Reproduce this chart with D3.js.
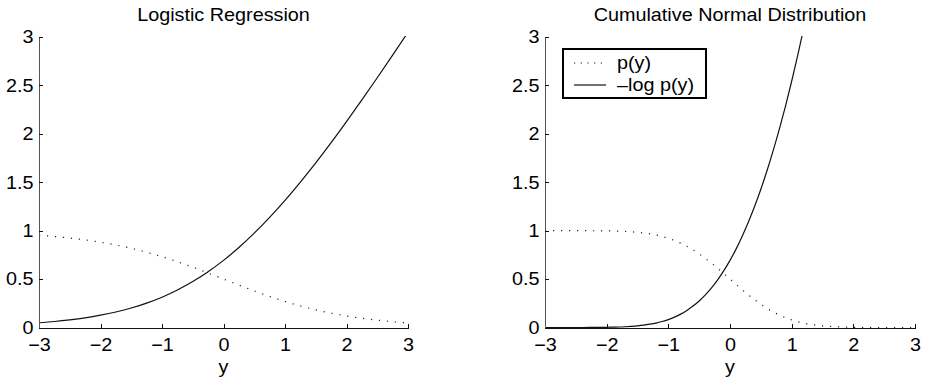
<!DOCTYPE html>
<html>
<head>
<meta charset="utf-8">
<script src="https://cdn.jsdelivr.net/npm/d3@7"></script>
<style>
  body { margin: 0; background: #fff; }
  text { font-family: "Liberation Sans", Arial, sans-serif; fill: #000; }
</style>
</head>
<body>
<script>
// datos
var titulos = ["Logistic Regression", "Cumulative Normal Distribution"]
var etiquetaX = "y"
var leyenda = ["p(y)", "\u2013log p(y)"]

var ticksX = [-3, -2, -1, 0, 1, 2, 3]
var etiquetasTicksX = ["\u22123", "\u22122", "\u22121", "0", "1", "2", "3"]
var ticksY = [0, 0.5, 1, 1.5, 2, 2.5, 3]
var etiquetasTicksY = ["0", "0.5", "1", "1.5", "2", "2.5", "3"]

// panel izquierdo: regresion logistica
var yLogit = [-3, -2.75, -2.5, -2.25, -2, -1.75, -1.5, -1.25, -1, -0.75, -0.5, -0.25, 0,
  0.25, 0.5, 0.75, 1, 1.25, 1.5, 1.75, 2, 2.25, 2.5, 2.75, 3]
var pLogit = [0.953, 0.940, 0.924, 0.905, 0.881, 0.852, 0.818, 0.777, 0.731, 0.679, 0.623, 0.562, 0.500,
  0.438, 0.378, 0.321, 0.269, 0.223, 0.182, 0.148, 0.119, 0.095, 0.076, 0.060, 0.047]
var logLogit = [0.049, 0.062, 0.079, 0.100, 0.127, 0.160, 0.201, 0.252, 0.313, 0.387, 0.474, 0.576, 0.693,
  0.826, 0.974, 1.137, 1.313, 1.502, 1.701, 1.910, 2.127, 2.350, 2.579, 2.812, 3.049]

// panel derecho: normal acumulada
var yProbit = [-3, -2.8, -2.6, -2.4, -2.2, -2, -1.9, -1.8, -1.7, -1.6, -1.5, -1.4, -1.3, -1.2, -1.1,
  -1, -0.9, -0.8, -0.7, -0.6, -0.5, -0.4, -0.3, -0.2, -0.1, 0,
  0.1, 0.2, 0.3, 0.4, 0.5, 0.6, 0.7, 0.8, 0.9, 1, 1.1, 1.2, 1.3, 1.4, 1.5,
  1.6, 1.7, 1.8, 1.9, 2, 2.2, 2.4, 2.6, 2.8, 3]
var pProbit = [1.000, 1.000, 1.000, 1.000, 0.999, 0.998, 0.996, 0.995, 0.992, 0.988, 0.983, 0.976, 0.967, 0.955, 0.940,
  0.921, 0.898, 0.871, 0.839, 0.802, 0.760, 0.714, 0.664, 0.611, 0.556, 0.500,
  0.444, 0.389, 0.336, 0.286, 0.240, 0.198, 0.161, 0.129, 0.102, 0.079, 0.060, 0.045, 0.033, 0.024, 0.017,
  0.012, 0.008, 0.005, 0.004, 0.002, 0.001, 0.000, 0.000, 0.000, 0.000]
var logProbit = [0.000, 0.000, 0.000, 0.000, 0.001, 0.002, 0.004, 0.005, 0.008, 0.012, 0.017, 0.024, 0.034, 0.046, 0.062,
  0.082, 0.107, 0.138, 0.176, 0.221, 0.274, 0.337, 0.409, 0.492, 0.587, 0.693,
  0.812, 0.945, 1.092, 1.252, 1.428, 1.619, 1.826, 2.048, 2.287, 2.543, 2.815, 3.105, 3.411, 3.735, 4.075,
  4.43, 4.80, 5.18, 5.57, 5.97, 6.82, 7.74, 8.74, 9.8, 11.0]

var width = 929
var height = 383
var margin = { top: 37, bottom: 55 }
var paneles = [
  { izq: 39, der: 408, y: yLogit, p: pLogit, lg: logLogit },
  { izq: 545, der: 915, y: yProbit, p: pProbit, lg: logProbit }
]
var tamLetra = 18
var estirar = "scale(1.1,1)"

var svg = d3.select("body")
  .append("svg")
  .attr("width", width)
  .attr("height", height)

paneles.forEach(function (panel, i) {
  var escalaX = d3.scaleLinear()
    .domain([-3, 3])
    .range([panel.izq, panel.der])
  var escalaY = d3.scaleLinear()
    .domain([0, 3])
    .range([height - margin.bottom - 0.5, margin.top])

  var g = svg.append("g")

  // recorte del area del grafico
  g.append("clipPath")
    .attr("id", "clip" + i)
    .append("rect")
    .attr("x", panel.izq)
    .attr("y", margin.top - 1)
    .attr("width", panel.der - panel.izq)
    .attr("height", escalaY(0) - margin.top + 2)

  var puntos = panel.y.map(function (d, k) { return { x: d, p: panel.p[k], lg: panel.lg[k] } })

  var lineaP = d3.line()
    .x(d => escalaX(d.x))
    .y(d => escalaY(d.p))
    .curve(d3.curveMonotoneX)
  var lineaLog = d3.line()
    .x(d => escalaX(d.x))
    .y(d => escalaY(d.lg))
    .curve(d3.curveMonotoneX)

  g.append("path")
    .datum(puntos)
    .attr("clip-path", "url(#clip" + i + ")")
    .attr("d", lineaP)
    .attr("fill", "none")
    .attr("stroke", "#222")
    .attr("stroke-width", 1.2)
    .attr("stroke-dasharray", "1.2,6.8")

  g.append("path")
    .datum(puntos)
    .attr("clip-path", "url(#clip" + i + ")")
    .attr("d", lineaLog)
    .attr("fill", "none")
    .attr("stroke", "#111")
    .attr("stroke-width", 1.2)

  // ejes
  var ejeX = d3.axisBottom(escalaX)
    .tickValues(ticksX)
    .tickFormat((d, k) => etiquetasTicksX[k])
    .tickSizeInner(-4)
    .tickSizeOuter(0)
    .tickPadding(11)
  var ejeY = d3.axisLeft(escalaY)
    .tickValues(ticksY)
    .tickFormat((d, k) => etiquetasTicksY[k])
    .tickSizeInner(-4)
    .tickSizeOuter(0)
    .tickPadding(5)

  var gx = g.append("g")
    .attr("transform", "translate(0," + escalaY(0) + ")")
    .call(ejeX)
  var gy = g.append("g")
    .attr("transform", "translate(" + panel.izq + ",0)")
    .call(ejeY)

  ;[gx, gy].forEach(function (eje) {
    eje.selectAll("path, line").attr("stroke", "#111").attr("shape-rendering", "crispEdges")
    eje.selectAll("text")
      .attr("font-size", tamLetra)
      .attr("font-family", null)
      .attr("fill", "#000")
      .attr("transform", estirar)
  })
  gy.select(".domain").attr("stroke", "#555")

  // titulo y etiqueta del eje
  var centro = (panel.izq + panel.der) / 2
  g.append("text")
    .attr("transform", "translate(" + centro + ",21) " + estirar)
    .attr("text-anchor", "middle")
    .attr("font-size", tamLetra)
    .text(titulos[i])
  g.append("text")
    .attr("transform", "translate(" + centro + ",373) " + estirar)
    .attr("text-anchor", "middle")
    .attr("font-size", tamLetra)
    .text(etiquetaX)
})

// leyenda (solo en el panel derecho)
var gl = svg.append("g")
gl.append("rect")
  .attr("x", 563)
  .attr("y", 49)
  .attr("width", 143)
  .attr("height", 49)
  .attr("fill", "#fff")
  .attr("stroke", "#000")
  .attr("stroke-width", 2)

var estilos = ["1.2,5.5", null]
leyenda.forEach(function (t, k) {
  var yy = 63 + k * 22
  gl.append("line")
    .attr("x1", 574)
    .attr("x2", 606)
    .attr("y1", yy)
    .attr("y2", yy)
    .attr("stroke", "#111")
    .attr("stroke-width", 1.2)
    .attr("stroke-dasharray", estilos[k])
  gl.append("text")
    .attr("transform", "translate(617," + (yy + 6) + ") " + estirar)
    .attr("font-size", tamLetra)
    .text(t)
})
</script>
</body>
</html>
